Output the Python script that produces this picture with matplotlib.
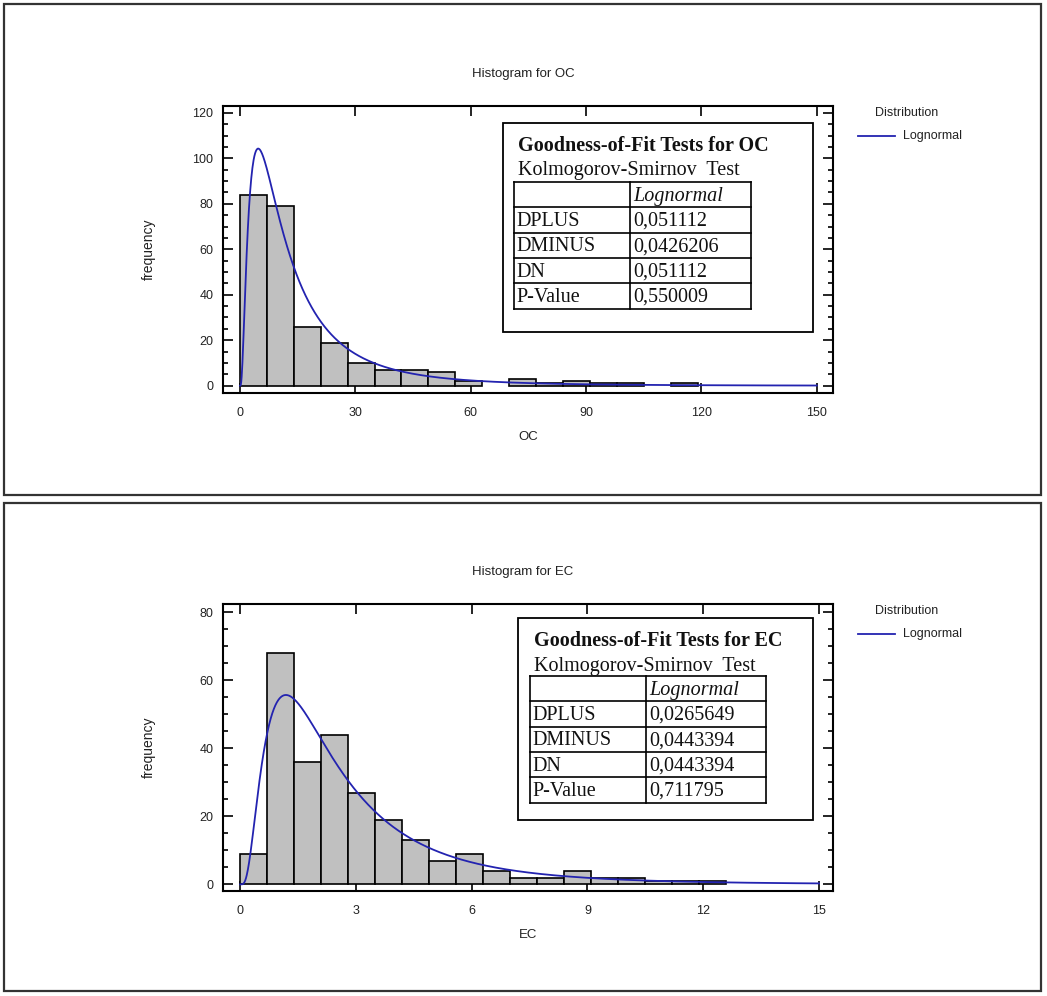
import numpy as np
import matplotlib
matplotlib.use("Agg")
import matplotlib.pyplot as plt
from matplotlib.patches import Rectangle
from matplotlib.lines import Line2D
from matplotlib.ticker import MultipleLocator

# OC histogram: bin width 7 starting at 0
oc_bin_width = 7.0
oc_counts = [84, 79, 26, 19, 10, 7, 7, 6, 2, 0, 3, 1, 2, 1, 1, 0, 1]
oc_n = 249
oc_logmu, oc_logsigma = 2.404, 0.92
oc_xmax = 150
oc_gof = [0.051112, 0.0426206, 0.051112, 0.550009]

# EC histogram: bin width 0.7 starting at 0
ec_bin_width = 0.7
ec_counts = [9, 68, 36, 44, 27, 19, 13, 7, 9, 4, 2, 2, 4, 2, 2, 1, 1, 1]
ec_n = 251
ec_logmu, ec_logsigma = 0.782, 0.78
ec_xmax = 15
ec_gof = [0.0265649, 0.0443394, 0.0443394, 0.711795]

gof_rows = ["DPLUS", "DMINUS", "DN", "P-Value"]

W, H = 1047, 996
SANS = ["Liberation Sans", "DejaVu Sans"]
SERIF = ["Liberation Serif", "DejaVu Serif"]
CURVE = "#2323b0"
TXT = "#222222"

fig = plt.figure(figsize=(W / 100, H / 100), dpi=100)


def fx(px):
    return px / W


def fy(py):
    return 1 - py / H


def lognormal_pdf(x, mu, sigma):
    return np.exp(-(np.log(x) - mu) ** 2 / (2 * sigma ** 2)) / (x * sigma * np.sqrt(2 * np.pi))


def draw_panel(top, frame, var, counts, width, n, mu, sigma, xmax, xlim, ylim, xstep, ystep, gof, tbl):
    # outer frame of the panel
    f0, f1 = frame
    fig.patches.append(Rectangle((fx(4), fy(f1)), fx(1037), (f1 - f0) / H,
                                 transform=fig.transFigure, fill=False,
                                 edgecolor="#333333", linewidth=1.6))

    ax = fig.add_axes([fx(223), fy(top + 389), fx(610), 287 / H])
    counts = np.array(counts, dtype=float)
    lefts = np.arange(len(counts)) * width
    keep = counts > 0
    ax.bar(lefts[keep], counts[keep], width=width, align="edge",
           color="#c0c0c0", edgecolor="black", linewidth=1.2, zorder=2)

    xs = np.linspace(xmax / 3000, xmax, 1500)
    ax.plot(xs, n * width * lognormal_pdf(xs, mu, sigma), color=CURVE, lw=1.3, zorder=3)

    ax.set_xlim(*xlim)
    ax.set_ylim(*ylim)
    ax.xaxis.set_major_locator(MultipleLocator(xstep))
    ax.yaxis.set_major_locator(MultipleLocator(ystep))
    ax.yaxis.set_minor_locator(MultipleLocator(ystep / 4))
    ax.tick_params(which="both", direction="in", top=True, right=True,
                   labelsize=9, labelcolor=TXT, width=1.2)
    ax.tick_params(which="major", length=7)
    ax.tick_params(which="minor", length=3.5)
    ax.tick_params(axis="x", pad=10)
    ax.tick_params(axis="y", pad=7)
    for lab in ax.get_xticklabels() + ax.get_yticklabels():
        lab.set_family(SANS)
    for sp in ax.spines.values():
        sp.set_linewidth(1.5)
    ax.set_xlabel(var, family=SANS, fontsize=9.5, color=TXT, labelpad=9)
    ax.set_ylabel("frequency", family=SANS, fontsize=10, color=TXT)
    ax.yaxis.set_label_coords(-67 / 610, 0.5)

    fig.text(fx(523), fy(top + 70), f"Histogram for {var}", family=SANS,
             fontsize=9.5, color=TXT, ha="center", va="center")

    # legend
    fig.text(fx(875), fy(top + 109), "Distribution", family=SANS, fontsize=9,
             color=TXT, ha="left", va="center")
    fig.lines.append(Line2D([fx(858), fx(895)], [fy(top + 132), fy(top + 132)],
                            transform=fig.transFigure, color=CURVE, lw=1.3))
    fig.text(fx(903), fy(top + 132), "Lognormal", family=SANS, fontsize=9,
             color=TXT, ha="left", va="center")

    # goodness-of-fit table
    bx0, by0, bx1, by1, tx0, tx1, tdiv, ty0, rh = tbl
    fig.patches.append(Rectangle((fx(bx0), fy(top + by1)), fx(bx1 - bx0), (by1 - by0) / H,
                                 transform=fig.transFigure, facecolor="white",
                                 edgecolor="black", linewidth=1.3, zorder=5))
    fig.text(fx(tx0 + 4), fy(top + by0 + 23), f"Goodness-of-Fit Tests for {var}",
             family=SERIF, fontsize=14.5, weight="bold", color="#111111",
             va="center", zorder=6)
    fig.text(fx(tx0 + 4), fy(top + by0 + 48), "Kolmogorov-Smirnov  Test",
             family=SERIF, fontsize=14.5, color="#111111", va="center", zorder=6)
    nrows = len(gof_rows) + 1
    ty1 = ty0 + nrows * rh
    for i in range(nrows + 1):
        y = fy(top + ty0 + i * rh)
        fig.lines.append(Line2D([fx(tx0), fx(tx1)], [y, y], transform=fig.transFigure,
                                color="black", lw=1.2, zorder=6))
    for xv in (tx0, tdiv, tx1):
        fig.lines.append(Line2D([fx(xv), fx(xv)], [fy(top + ty0), fy(top + ty1)],
                                transform=fig.transFigure, color="black", lw=1.2, zorder=6))
    fig.text(fx(tdiv + 3), fy(top + ty0 + rh / 2 + 1.5), "Lognormal", family=SERIF,
             fontsize=14.5, style="italic", color="#111111", va="center", zorder=6)
    for i, (name, val) in enumerate(zip(gof_rows, gof)):
        yc = fy(top + ty0 + (i + 1.5) * rh + 1.5)
        fig.text(fx(tx0 + 2), yc, name, family=SERIF, fontsize=14.5,
                 color="#111111", va="center", zorder=6)
        fig.text(fx(tdiv + 3), yc, str(val).replace(".", ","), family=SERIF,
                 fontsize=14.5, color="#111111", va="center", zorder=6)
    return ax


draw_panel(4, (4, 495), "OC", oc_counts, oc_bin_width, oc_n, oc_logmu, oc_logsigma, oc_xmax,
           (-4.4, 154.2), (-3.2, 123), 30, 20, oc_gof,
           (503, 119, 813, 328, 514, 751, 630, 178, 25.3))
draw_panel(502, (503, 991), "EC", ec_counts, ec_bin_width, ec_n, ec_logmu, ec_logsigma, ec_xmax,
           (-0.44, 15.36), (-1.95, 82.5), 3, 20, ec_gof,
           (518, 116, 813, 318, 530, 766, 646, 174, 25.3))

fig.savefig("out.png", dpi=100)
